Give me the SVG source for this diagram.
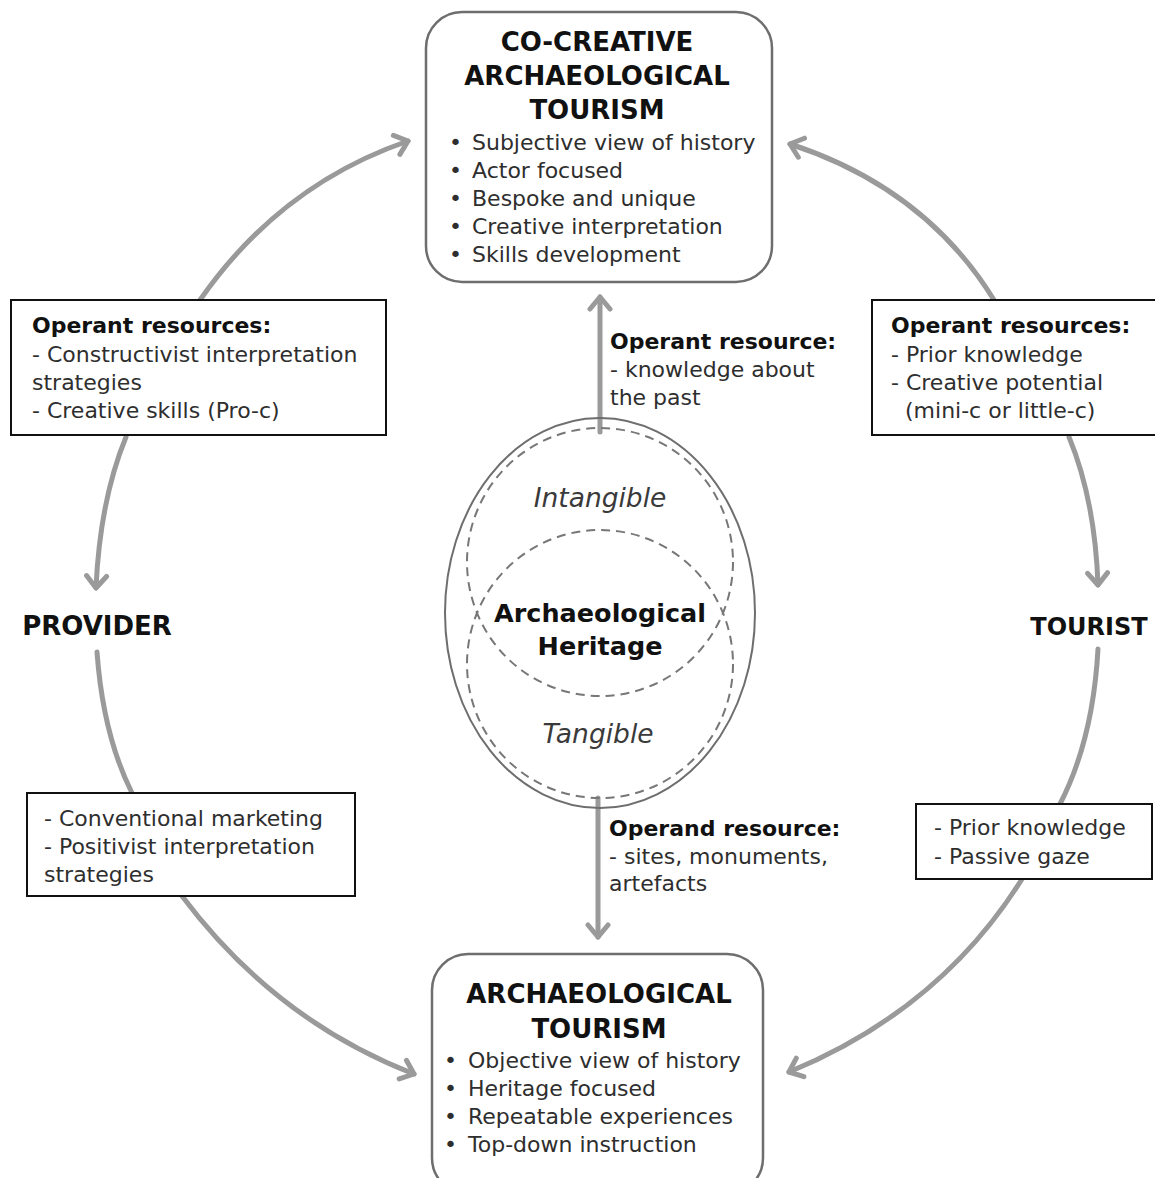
<svg xmlns="http://www.w3.org/2000/svg" width="1155" height="1178" viewBox="0 0 1155 1178">
<style>
.t{font-family:"DejaVu Sans","Liberation Sans",sans-serif;fill:#2e2e2e;font-size:22px}
.b{font-family:"DejaVu Sans","Liberation Sans",sans-serif;fill:#111;font-weight:bold}
.h{font-size:26px}
.s{font-size:22px}
.i{font-family:"DejaVu Sans","Liberation Sans",sans-serif;fill:#3a3a3a;font-style:italic;font-size:26.5px}
.rb{fill:#fff;stroke:#6e6e6e;stroke-width:2.5}
.sq{fill:#fff;stroke:#111;stroke-width:2}
.c{fill:none;stroke:#9a9a9a;stroke-width:5;stroke-linecap:round}
.e{fill:none;stroke:#6e6e6e;stroke-width:2}
.d{fill:none;stroke:#777;stroke-width:2;stroke-dasharray:9,6}
</style>
<defs>
<marker id="ah" viewBox="0 0 26 26" refX="20" refY="13" markerWidth="26" markerHeight="26" orient="auto" markerUnits="userSpaceOnUse">
<path d="M8,3 L20,13 L8,23" fill="none" stroke="#9a9a9a" stroke-width="5" stroke-linecap="round" stroke-linejoin="round"/>
</marker>
</defs>
<rect width="1155" height="1178" fill="#fff"/>

<g id="connectors">
<path class="c" d="M200,300 Q280,185 408,141" marker-end="url(#ah)"/>
<path class="c" d="M994,300 Q925,188 790,144" marker-end="url(#ah)"/>
<path class="c" d="M126,437 Q100,500 96,588" marker-end="url(#ah)"/>
<path class="c" d="M97,652 Q103,735 132,793"/>
<path class="c" d="M182,896 Q275,1020 414,1074" marker-end="url(#ah)"/>
<path class="c" d="M1069,437 Q1095,500 1098,585" marker-end="url(#ah)"/>
<path class="c" d="M1098,649 Q1093,740 1060,804"/>
<path class="c" d="M1022,879 Q940,1010 789,1072" marker-end="url(#ah)"/>
<path class="c" d="M600,432 L600,297" marker-end="url(#ah)"/>
<path class="c" d="M598,798 L598,937" marker-end="url(#ah)"/>
</g>

<g id="co-creative">
<rect class="rb" x="426" y="12" width="346" height="270" rx="36"/>
<text class="b h" x="597" y="51" text-anchor="middle">CO-CREATIVE</text>
<text class="b h" x="597" y="85" text-anchor="middle">ARCHAEOLOGICAL</text>
<text class="b h" x="597" y="119" text-anchor="middle">TOURISM</text>
<text class="t" x="449" y="150">•</text><text class="t" x="472" y="150">Subjective view of history</text>
<text class="t" x="449" y="178">•</text><text class="t" x="472" y="178">Actor focused</text>
<text class="t" x="449" y="206">•</text><text class="t" x="472" y="206">Bespoke and unique</text>
<text class="t" x="449" y="234">•</text><text class="t" x="472" y="234">Creative interpretation</text>
<text class="t" x="449" y="262">•</text><text class="t" x="472" y="262">Skills development</text>
</g>

<g id="provider-operant">
<rect class="sq" x="11" y="300" width="375" height="135"/>
<text class="b s" x="32" y="333">Operant resources:</text>
<text class="t s" x="32" y="362">- Constructivist interpretation</text>
<text class="t s" x="32" y="390">strategies</text>
<text class="t s" x="32" y="418">- Creative skills (Pro-c)</text>
</g>

<g id="tourist-operant">
<rect class="sq" x="872" y="300" width="290" height="135"/>
<text class="b s" x="891" y="333">Operant resources:</text>
<text class="t s" x="891" y="362">- Prior knowledge</text>
<text class="t s" x="891" y="390">- Creative potential</text>
<text class="t s" x="905" y="418">(mini-c or little-c)</text>
</g>

<g id="operant-label">
<text class="b s" x="610" y="349">Operant resource:</text>
<text class="t s" x="610" y="377">- knowledge about</text>
<text class="t s" x="610" y="405">the past</text>
</g>

<g id="heritage">
<ellipse class="e" cx="600" cy="613" rx="155" ry="195"/>
<ellipse class="d" cx="600" cy="562" rx="133" ry="134"/>
<ellipse class="d" cx="600" cy="664" rx="133" ry="134"/>
<text class="i" x="600" y="507" text-anchor="middle">Intangible</text>
<text class="b" font-size="25.5" x="600" y="622" text-anchor="middle">Archaeological</text>
<text class="b" font-size="25.5" x="600" y="655" text-anchor="middle">Heritage</text>
<text class="i" x="598" y="743" text-anchor="middle">Tangible</text>
</g>

<g id="provider">
<text class="b h" x="97" y="635" text-anchor="middle">PROVIDER</text>
</g>

<g id="tourist">
<text class="b" font-size="24" x="1089" y="635" text-anchor="middle">TOURIST</text>
</g>

<g id="provider-operand">
<rect class="sq" x="27" y="793" width="328" height="103"/>
<text class="t s" x="44" y="826">- Conventional marketing</text>
<text class="t s" x="44" y="854">- Positivist interpretation</text>
<text class="t s" x="44" y="882">strategies</text>
</g>

<g id="tourist-operand">
<rect class="sq" x="916" y="804" width="236" height="75"/>
<text class="t s" x="934" y="835">- Prior knowledge</text>
<text class="t s" x="934" y="864">- Passive gaze</text>
</g>

<g id="operand-label">
<text class="b s" x="609" y="836">Operand resource:</text>
<text class="t s" x="609" y="864">- sites, monuments,</text>
<text class="t s" x="609" y="891">artefacts</text>
</g>

<g id="archaeological-tourism">
<rect class="rb" x="432" y="954" width="331" height="240" rx="36"/>
<text class="b h" x="599" y="1003" text-anchor="middle">ARCHAEOLOGICAL</text>
<text class="b h" x="599" y="1038" text-anchor="middle">TOURISM</text>
<text class="t" x="444" y="1068">•</text><text class="t" x="468" y="1068">Objective view of history</text>
<text class="t" x="444" y="1096">•</text><text class="t" x="468" y="1096">Heritage focused</text>
<text class="t" x="444" y="1124">•</text><text class="t" x="468" y="1124">Repeatable experiences</text>
<text class="t" x="444" y="1152">•</text><text class="t" x="468" y="1152">Top-down instruction</text>
</g>
</svg>
